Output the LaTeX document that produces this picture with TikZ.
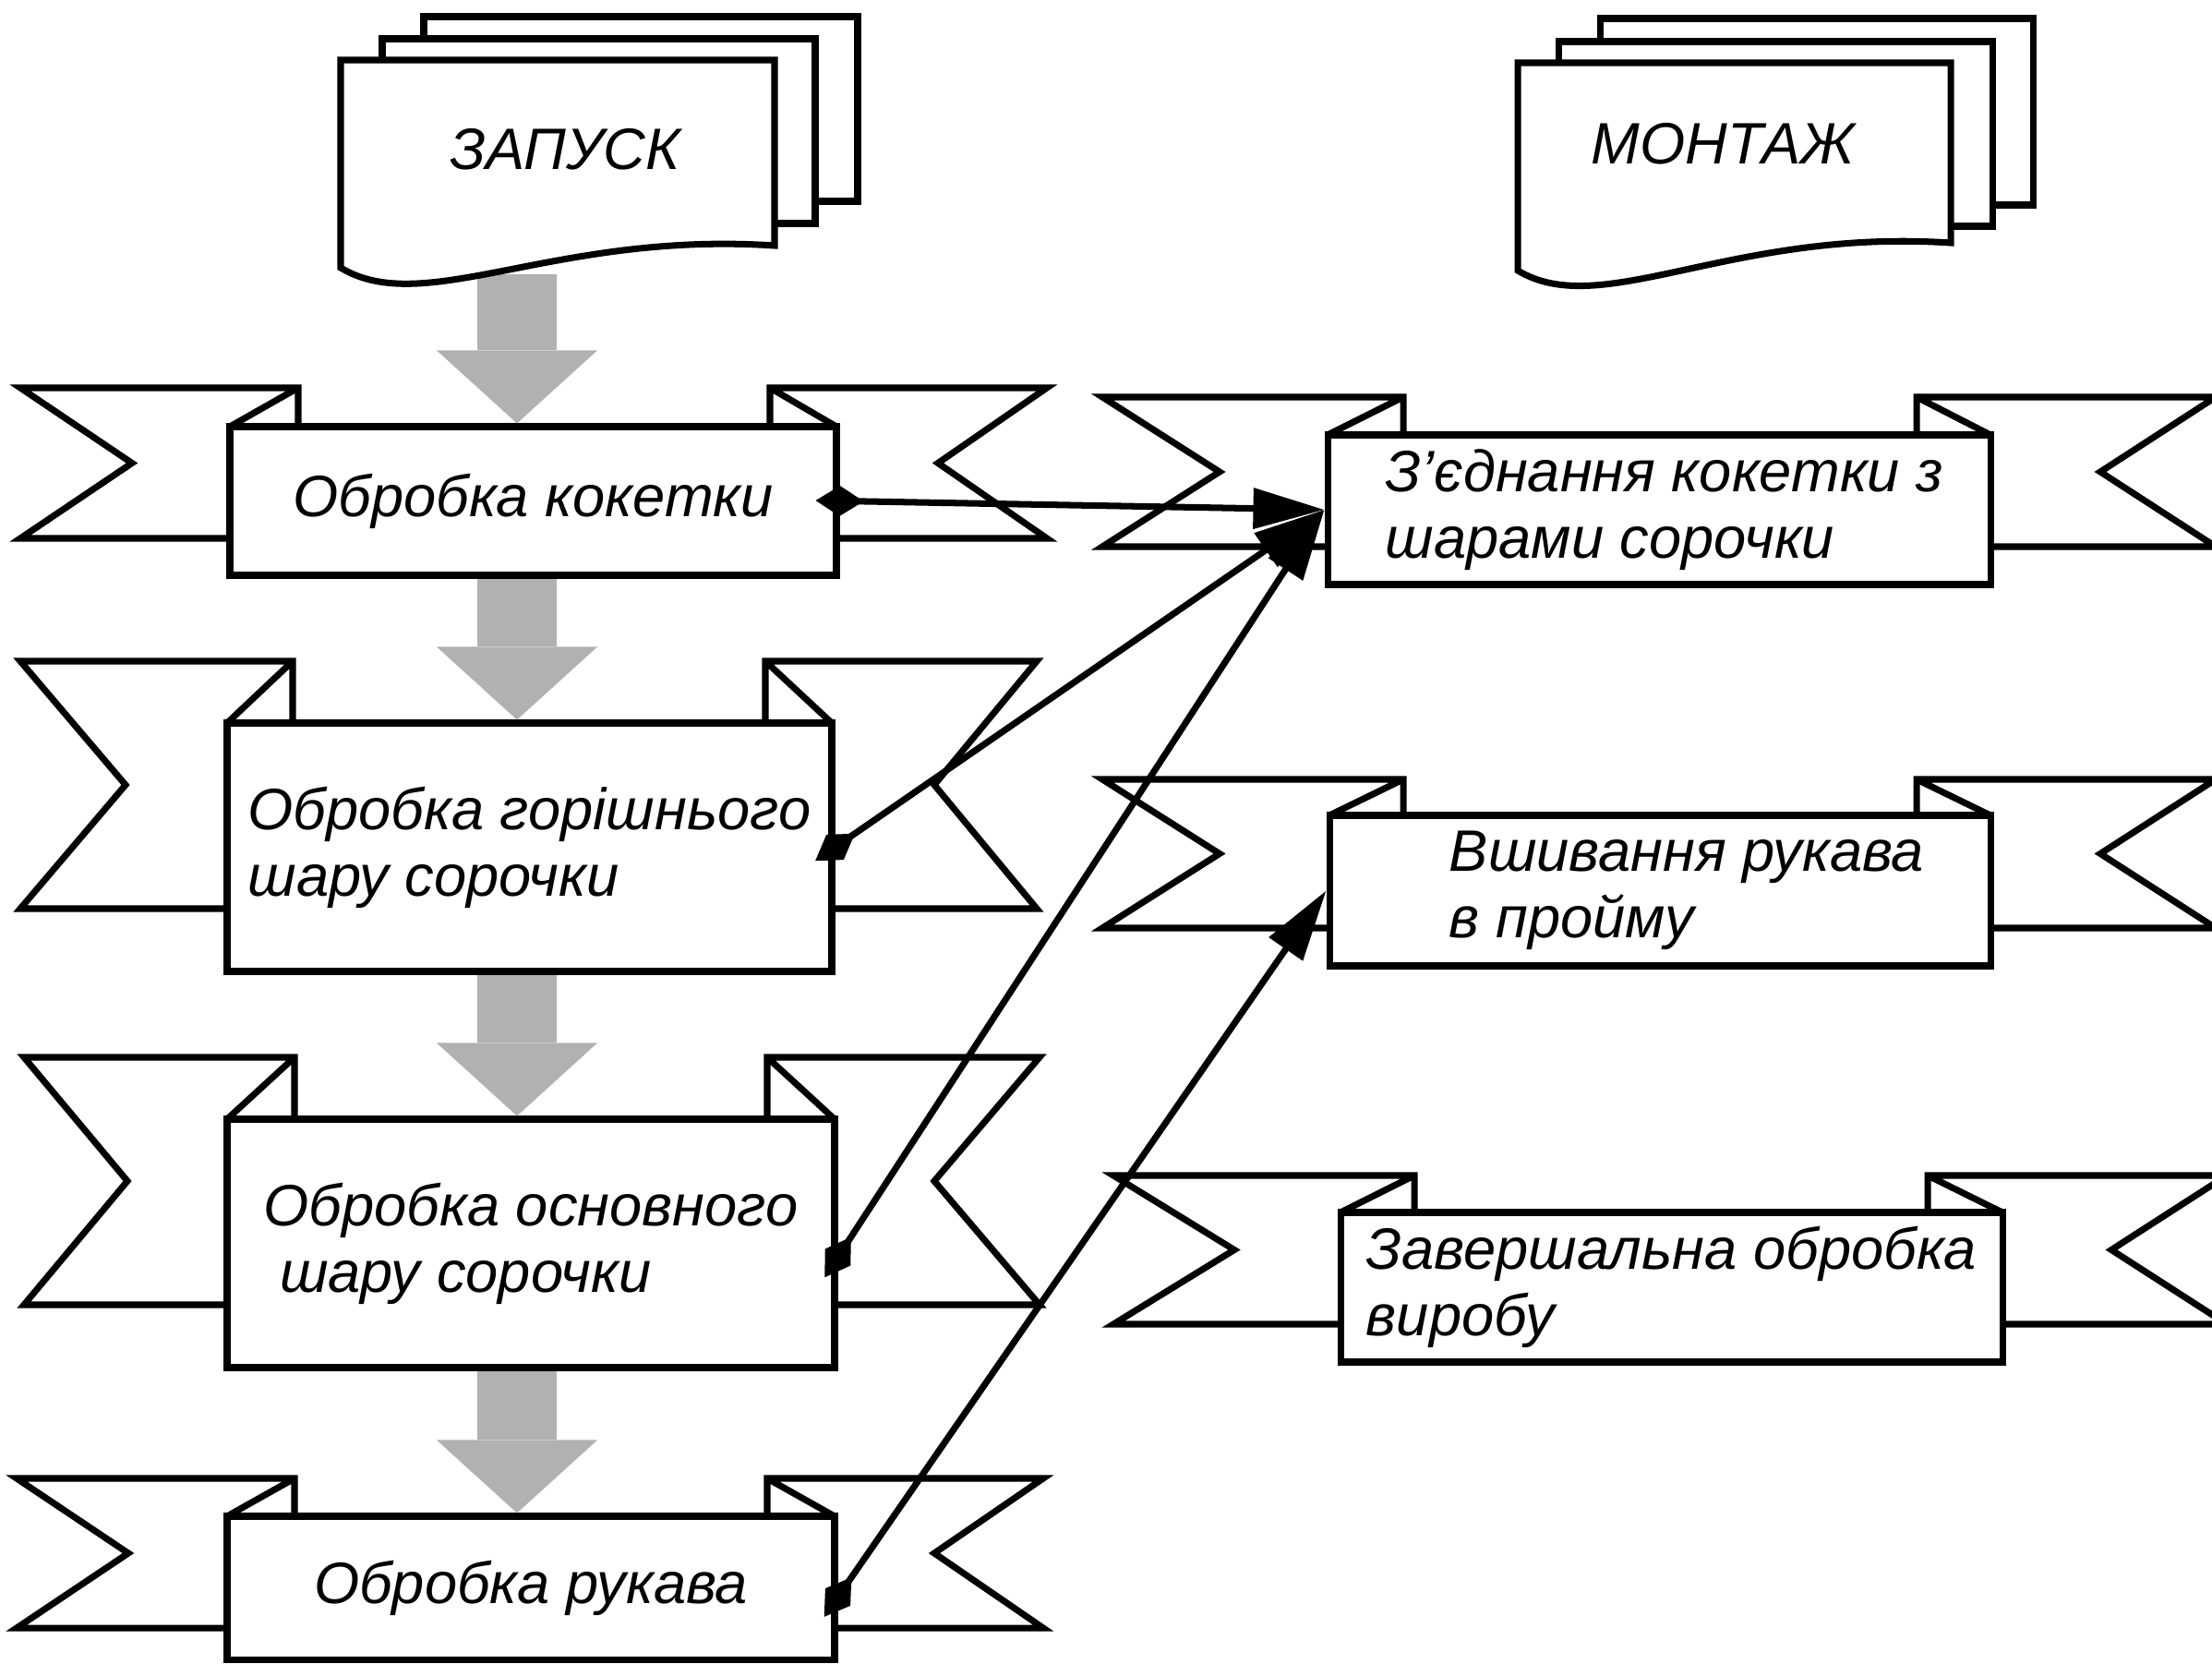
\documentclass[tikz,border=0pt]{standalone}
\usepackage{fontspec}
\setmainfont{Liberation Sans}
\usetikzlibrary{arrows.meta}
\definecolor{flowgray}{RGB}{176,178,176}

\begin{document}
\begin{tikzpicture}[
		procbox/.style={rectangle, draw, fill=white, line width=2pt, inner sep=0pt, align=left, font=\fontsize{18}{20.5}\selectfont\itshape},
		flag/.style={draw, fill=white, line width=2pt},
		docpage/.style={draw, fill=white, line width=2pt},
		doctext/.style={font=\fontsize{18}{20.5}\selectfont\itshape},
		flow/.style={draw=flowgray, line width=0.86cm, -{Triangle[length=0.79cm, width=1.74cm, line width=0pt]}},
		link/.style={line width=2pt, shorten <=-0.26cm, {Diamond[length=0.52cm, width=0.33cm]}-{Triangle[length=0.77cm, width=0.43cm]}}
	]
		\useasboundingbox (0,0) rectangle (23.96,-18.02);

		% ribbon flags, left column
		\draw[flag]
		(0.22,-4.20) -- (3.23,-4.20) -- (3.23,-5.83) -- (0.22,-5.83) -- (1.43,-5.015) -- cycle
		(3.23,-4.20) -- (2.49,-4.62)
		(11.34,-4.20) -- (8.34,-4.20) -- (8.34,-5.83) -- (11.34,-5.83) -- (10.16,-5.015) -- cycle
		(8.34,-4.20) -- (9.06,-4.62);
		\draw[flag]
		(0.22,-7.16) -- (3.17,-7.16) -- (3.17,-9.84) -- (0.22,-9.84) -- (1.36,-8.50) -- cycle
		(3.17,-7.16) -- (2.46,-7.83)
		(11.23,-7.16) -- (8.29,-7.16) -- (8.29,-9.84) -- (11.23,-9.84) -- (10.12,-8.50) -- cycle
		(8.29,-7.16) -- (9.01,-7.83);
		\draw[flag]
		(0.26,-11.45) -- (3.19,-11.45) -- (3.19,-14.13) -- (0.26,-14.13) -- (1.38,-12.79) -- cycle
		(3.19,-11.45) -- (2.46,-12.12)
		(11.26,-11.45) -- (8.31,-11.45) -- (8.31,-14.13) -- (11.26,-14.13) -- (10.12,-12.79) -- cycle
		(8.31,-11.45) -- (9.04,-12.12);
		\draw[flag]
		(0.18,-16.01) -- (3.19,-16.01) -- (3.19,-17.63) -- (0.18,-17.63) -- (1.39,-16.82) -- cycle
		(3.19,-16.01) -- (2.46,-16.42)
		(11.30,-16.01) -- (8.31,-16.01) -- (8.31,-17.63) -- (11.30,-17.63) -- (10.12,-16.82) -- cycle
		(8.31,-16.01) -- (9.04,-16.42);

		% ribbon flags, right column
		\draw[flag]
		(11.94,-4.30) -- (15.20,-4.30) -- (15.20,-5.92) -- (11.94,-5.92) -- (13.21,-5.11) -- cycle
		(15.20,-4.30) -- (14.38,-4.71)
		(24.00,-4.30) -- (20.76,-4.30) -- (20.76,-5.92) -- (24.00,-5.92) -- (22.75,-5.11) -- cycle
		(20.76,-4.30) -- (21.56,-4.71);
		\draw[flag]
		(11.94,-8.44) -- (15.20,-8.44) -- (15.20,-10.05) -- (11.94,-10.05) -- (13.21,-9.245) -- cycle
		(15.20,-8.44) -- (14.40,-8.83)
		(24.00,-8.44) -- (20.76,-8.44) -- (20.76,-10.05) -- (24.00,-10.05) -- (22.75,-9.245) -- cycle
		(20.76,-8.44) -- (21.56,-8.83);
		\draw[flag]
		(12.06,-12.73) -- (15.32,-12.73) -- (15.32,-14.34) -- (12.06,-14.34) -- (13.37,-13.535) -- cycle
		(15.32,-12.73) -- (14.52,-13.13)
		(24.12,-12.73) -- (20.88,-12.73) -- (20.88,-14.34) -- (24.12,-14.34) -- (22.87,-13.535) -- cycle
		(20.88,-12.73) -- (21.69,-13.13);

		\draw
		(5.775,-5.425) node [procbox, minimum width=6.57cm, minimum height=1.61cm] (P1) {Обробка кокетки}
		(5.735,-9.175) node [procbox, minimum width=6.55cm, minimum height=2.69cm] (P2) {Обробка горішнього\\шару сорочки}
		(5.75,-13.465) node [procbox, minimum width=6.58cm, minimum height=2.69cm] (P3) {Обробка основного\\~шару сорочки}
		(5.75,-17.195) node [procbox, minimum width=6.58cm, minimum height=1.55cm] (P4) {Обробка рукава};

		\draw
		(17.97,-5.52) node [procbox, minimum width=7.18cm, minimum height=1.62cm] (M1) {\hspace*{0.12cm}З’єднання кокетки з\\\hspace*{0.12cm}шарами сорочки}
		(17.98,-9.645) node [procbox, minimum width=7.16cm, minimum height=1.63cm] (M2) {\hspace*{0.58cm}Вшивання рукава\\\hspace*{0.58cm}в пройму}
		(18.105,-13.94) node [procbox, minimum width=7.17cm, minimum height=1.62cm] (M3) {Завершальна обробка\\виробу};

		% grey flow arrows
		\coordinate (axis) at (5.60,0);
		\coordinate (launchfoot) at (5.60,-2.97);
		\draw[flow] (launchfoot) -- (axis |- P1.north);
		\draw[flow] (axis |- P1.south) -- (axis |- P2.north);
		\draw[flow] (axis |- P2.south) -- (axis |- P3.north);
		\draw[flow] (axis |- P3.south) -- (axis |- P4.north);

		% document stacks
		\draw[docpage] (4.59,-0.18) rectangle (9.29,-2.18);
		\draw[docpage] (4.14,-0.42) rectangle (8.83,-2.42);
		\draw[docpage] (3.69,-0.65) -- (8.39,-0.65) -- (8.39,-2.66) .. controls (6.00,-2.50) and (4.60,-3.45) .. (3.69,-2.90) -- cycle;
		\node[doctext] (launch) at (6.12,-1.62) {ЗАПУСК};

		\draw[docpage] (17.33,-0.20) rectangle (22.02,-2.22);
		\draw[docpage] (16.88,-0.45) rectangle (21.58,-2.45);
		\draw[docpage] (16.44,-0.68) -- (21.13,-0.68) -- (21.13,-2.63) .. controls (18.74,-2.47) and (17.35,-3.48) .. (16.44,-2.93) -- cycle;
		\node[doctext] (mount) at (18.66,-1.56) {МОНТАЖ};

		% links
		\draw[link] (P1.east) -- (M1.west);
		\draw[link] (P2.east) -- (M1.west);
		\draw[link] ([yshift=-0.15cm]P3.east) -- (M1.west);
		\draw[link] ([yshift=-0.1cm]P4.east) -- (M2.west);
	\end{tikzpicture}
\end{document}
